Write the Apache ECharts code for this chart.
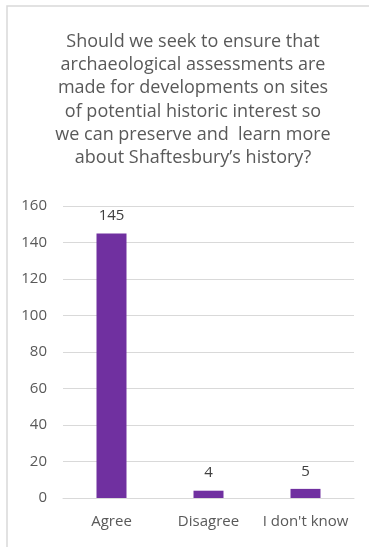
<!DOCTYPE html>
<html>
<head>
<meta charset="utf-8">
<script src="https://cdn.jsdelivr.net/npm/echarts@6/dist/echarts.min.js"></script>
<style>
html,body{margin:0;padding:0;background:#fff;}
#chart{width:369px;height:547px;}
</style>
</head>
<body>
<div id="chart"></div>
<script>
const categories = ["Agree", "Disagree", "I don't know"];
const values = [145, 4, 5];
const titleLines = [
  "Should we seek to ensure that",
  "archaeological assessments are",
  "made for developments on sites",
  "of potential historic interest so",
  "we can preserve and  learn more",
  "about Shaftesbury\u2019s history?"
];

const chart = echarts.init(document.getElementById('chart'), null, {renderer: 'canvas'});
const font = "'Open Sans', 'Noto Sans', sans-serif";
chart.setOption({
  animation: false,
  backgroundColor: '#ffffff',
  graphic: [{
    type: 'rect',
    shape: {x: 7, y: 6, width: 400, height: 600},
    style: {fill: 'none', stroke: '#d9d9d9', lineWidth: 1.5},
    silent: true, z: -1
  }],
  title: {
    text: titleLines.join('\n'),
    left: 193, top: 30, textAlign: 'center', padding: 0,
    textStyle: {fontFamily: font, fontSize: 18, fontWeight: 'normal', color: '#595959', lineHeight: 23.3}
  },
  grid: {left: 63, right: 15, top: 206, bottom: 49, containLabel: false},
  xAxis: {
    type: 'category',
    data: categories,
    axisLine: {show: true, lineStyle: {color: '#d9d9d9', width: 1}},
    axisTick: {show: false},
    axisLabel: {interval: 0, hideOverlap: false, fontFamily: font, fontSize: 15, color: '#595959', margin: 16}
  },
  yAxis: {
    type: 'value',
    min: 0, max: 160, interval: 20,
    axisLine: {show: false},
    axisTick: {show: false},
    splitLine: {lineStyle: {color: '#d9d9d9', width: 1}},
    axisLabel: {fontFamily: font, fontSize: 15, color: '#595959', margin: 16}
  },
  series: [{
    type: 'bar',
    data: values,
    barWidth: 30,
    itemStyle: {color: '#7030a0'},
    label: {show: true, position: 'top', distance: 10, fontFamily: font, fontSize: 15, color: '#404040'}
  }]
});
</script>
</body>
</html>
